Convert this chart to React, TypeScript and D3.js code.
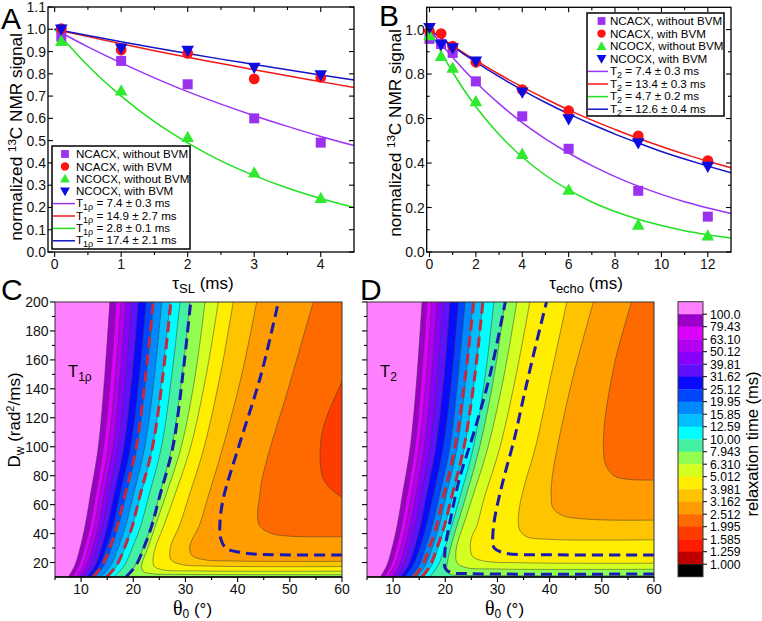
import React from "react";
import * as d3 from "d3";

const FONT = "'Liberation Sans', Arial, Helvetica, sans-serif";

// ---- panel A : spin-lock decay ----
const tauSL = [0.1, 1, 2, 3, 4];
const aNcacx = [0.967, 0.858, 0.753, 0.6, 0.491];
const aNcacxBvm = [1.003, 0.907, 0.892, 0.777, 0.784];
const aNcocx = [0.947, 0.724, 0.515, 0.356, 0.241];
const aNcocxBvm = [1.0, 0.915, 0.904, 0.828, 0.795];

const fitTauSL = [0, 0.5, 1, 1.5, 2, 2.5, 3, 3.5, 4, 4.5];
const aFitNcacx = [1, 0.921, 0.849, 0.782, 0.72, 0.664, 0.612, 0.564, 0.519, 0.478];
const aFitNcacxBvm = [1, 0.967, 0.935, 0.904, 0.874, 0.846, 0.818, 0.791, 0.765, 0.739];
const aFitNcocx = [1, 0.836, 0.7, 0.585, 0.49, 0.409, 0.343, 0.287, 0.24, 0.2];
const aFitNcocxBvm = [1, 0.972, 0.944, 0.917, 0.891, 0.866, 0.842, 0.818, 0.795, 0.772];

// ---- panel B : echo decay ----
const tauEcho = [0, 0.5, 1, 2, 4, 6, 9, 12];
const bNcacx = [0.958, 0.935, 0.895, 0.767, 0.61, 0.464, 0.275, 0.159];
const bNcacxBvm = [0.992, 0.982, 0.925, 0.853, 0.73, 0.635, 0.522, 0.411];
const bNcocx = [0.973, 0.88, 0.827, 0.677, 0.44, 0.279, 0.122, 0.073];
const bNcocxBvm = [1.008, 0.932, 0.917, 0.857, 0.718, 0.598, 0.49, 0.384];

const fitTauEcho = [0, 1, 2, 3, 4, 5, 6, 7, 8, 9, 10, 11, 12, 13];
const bFitNcacx = [1, 0.874, 0.763, 0.667, 0.582, 0.509, 0.445, 0.388, 0.339, 0.296, 0.259, 0.226, 0.198, 0.173];
const bFitNcacxBvm = [1, 0.928, 0.861, 0.799, 0.742, 0.689, 0.639, 0.593, 0.551, 0.511, 0.474, 0.44, 0.408, 0.379];
const bFitNcocx = [1, 0.808, 0.653, 0.528, 0.427, 0.345, 0.279, 0.225, 0.182, 0.147, 0.119, 0.096, 0.078, 0.063];
const bFitNcocxBvm = [1, 0.924, 0.853, 0.788, 0.728, 0.672, 0.621, 0.574, 0.53, 0.49, 0.452, 0.418, 0.386, 0.356];

const sampleNames = ["NCACX, without BVM", "NCACX, with BVM", "NCOCX, without BVM", "NCOCX, with BVM"];
const fitLabelsA = ["7.4 ± 0.3", "14.9 ± 2.7", "2.8 ± 0.1", "17.4 ± 2.1"];
const fitLabelsB = ["7.4 ± 0.3", "13.4 ± 0.3", "4.7 ± 0.2", "12.6 ± 0.4"];

const markerColors = ["#9a32f0", "#ff1414", "#30ea30", "#0c0ce0"];
const lineColors = ["#9b35f5", "#f01818", "#22e022", "#1414c8"];
const markerKinds = ["square", "circle", "up", "down"];

// ---- colour levels (relaxation time, ms) ----
const levelLabels = ["100.0", "79.43", "63.10", "50.12", "39.81", "31.62", "25.12", "19.95", "15.85", "12.59",
  "10.00", "7.943", "6.310", "5.012", "3.981", "3.162", "2.512", "1.995", "1.585", "1.259", "1.000"];
const cellColors = ["#ff80ff", "#9c00c8", "#dd00ff", "#b400f2", "#8a00ff", "#6010ff", "#0a0aff", "#0046ff",
  "#0088ff", "#00beff", "#00ffff", "#44f0a2", "#92ff50", "#d4ff20", "#ffee00", "#ffc400", "#ff9c00",
  "#ff6a00", "#ff3c00", "#ff1c00", "#c00000", "#000000"];

// ---- panel C : T1rho contour lines [theta0, Dw], one per level from 100.0 down ----
const linesC = [
  [[7.55, 10], [8.8, 18], [9.8, 30], [10.75, 45], [11.7, 65], [13.3, 100], [14.55, 150], [15.5, 200]],
  [[8.3, 10], [9.6, 18], [10.6, 30], [11.7, 45], [12.7, 65], [14.3, 100], [15.7, 150], [16.7, 200]],
  [[9.0, 10], [10.4, 18], [11.4, 30], [12.5, 45], [13.5, 65], [15.2, 100], [16.6, 150], [17.65, 200]],
  [[9.7, 10], [11.1, 18], [12.2, 30], [13.3, 45], [14.3, 65], [16.1, 100], [17.5, 150], [18.6, 200]],
  [[10.4, 10], [11.9, 18], [13.0, 30], [14.1, 45], [15.2, 65], [17.1, 100], [18.6, 150], [19.7, 200]],
  [[11.1, 10], [12.7, 18], [13.9, 30], [15.0, 45], [16.2, 65], [18.2, 100], [19.8, 150], [20.95, 200]],
  [[11.8, 10], [13.5, 18], [14.8, 30], [16.1, 45], [17.3, 65], [19.5, 100], [21.2, 150], [22.45, 200]],
  [[12.6, 10], [14.4, 18], [15.8, 30], [17.1, 45], [18.5, 65], [20.7, 100], [22.5, 150], [23.9, 200]],
  [[13.8, 10], [15.7, 18], [17.1, 30], [18.5, 45], [19.9, 65], [22.2, 100], [24.1, 150], [25.45, 200]],
  [[15.0, 10], [16.9, 18], [18.4, 30], [19.8, 45], [21.3, 65], [23.7, 100], [25.6, 150], [27.05, 200]],
  [[16.3, 10], [18.3, 18], [19.8, 30], [21.4, 45], [22.9, 65], [25.4, 100], [27.4, 150], [28.95, 200]],
  [[18.4, 10], [20.4, 18], [21.9, 30], [23.4, 45], [24.9, 65], [27.4, 100], [29.4, 150], [30.85, 200]],
  [[60, 11.6], [30, 11.8], [23.5, 12.3], [21.9, 13.8], [21.6, 18], [22.8, 30], [24.2, 45], [26.1, 65], [29.2, 100], [31.9, 150], [33.75, 200]],
  [[60, 14], [32, 14.2], [25.5, 15], [24, 17.5], [23.8, 22], [24.2, 30], [25.8, 45], [27.8, 65], [31.0, 100], [34.0, 150], [36.3, 200]],
  [[60, 17.2], [35, 17.5], [29, 18.8], [27.2, 22], [27, 27], [27.3, 33], [28.8, 45], [30.6, 65], [33.6, 100], [36.7, 150], [39.15, 200]],
  [[60, 20.8], [40, 21], [33.5, 22], [31.2, 25], [30.8, 30], [31.3, 36], [32.6, 45], [34.3, 65], [37.2, 100], [40.8, 150], [43.65, 200]],
  [[60, 37.8], [50, 38.2], [46.5, 40], [44.3, 45], [43.8, 53], [44.2, 65], [44.6, 76], [46.3, 100], [49.2, 134], [51.3, 160], [54.5, 200]],
  [[60, 65], [57.5, 72], [56.2, 80], [55.8, 95], [56.2, 110], [57.1, 121], [58.5, 133], [60, 145]],
];
const redLowC = [[12.3, 10], [14.1, 18], [15.5, 30], [16.9, 45], [18.3, 65], [20.6, 100], [22.4, 150], [23.85, 200]];
const redHighC = [[14.9, 10], [16.8, 18], [18.3, 30], [19.8, 45], [21.2, 65], [23.7, 100], [25.7, 150], [27.2, 200]];
const blueLowC = [[18.6, 10], [20.5, 18], [22.0, 30], [23.5, 45], [25.0, 65], [27.6, 100], [29.5, 150], [31.0, 200]];
const blueHighC = [[60, 25.2], [48, 25.3], [41.5, 26.5], [37.8, 30], [36.8, 36], [36.6, 47], [37.3, 65], [40.2, 100], [44.5, 150], [47.8, 200]];

// ---- panel D : T2 contour lines ----
const linesD = [
  [[7.55, 10], [8.8, 18], [9.8, 30], [10.75, 45], [11.7, 65], [13.3, 100], [14.6, 150], [15.55, 200]],
  [[8.3, 10], [9.6, 18], [10.6, 30], [11.6, 45], [12.6, 65], [14.2, 100], [15.5, 150], [16.5, 200]],
  [[9.0, 10], [10.3, 18], [11.4, 30], [12.4, 45], [13.4, 65], [15.0, 100], [16.4, 150], [17.4, 200]],
  [[9.8, 10], [11.2, 18], [12.2, 30], [13.2, 45], [14.3, 65], [16.0, 100], [17.4, 150], [18.4, 200]],
  [[10.6, 10], [12.0, 18], [13.1, 30], [14.2, 45], [15.3, 65], [17.1, 100], [18.5, 150], [19.6, 200]],
  [[11.4, 10], [12.9, 18], [14.1, 30], [15.2, 45], [16.3, 65], [18.2, 100], [19.8, 150], [20.9, 200]],
  [[12.2, 10], [13.8, 18], [15.1, 30], [16.3, 45], [17.6, 65], [19.6, 100], [21.3, 150], [22.5, 200]],
  [[13.3, 10], [15.0, 18], [16.2, 30], [17.5, 45], [18.8, 65], [20.9, 100], [22.5, 150], [23.8, 200]],
  [[14.5, 10], [16.2, 18], [17.5, 30], [18.8, 45], [20.1, 65], [22.3, 100], [24.0, 150], [25.3, 200]],
  [[15.8, 10], [17.4, 18], [18.6, 30], [19.9, 45], [21.3, 65], [23.7, 100], [25.7, 150], [27.2, 200]],
  [[17.0, 10], [18.6, 18], [19.9, 30], [21.2, 45], [22.8, 65], [25.4, 100], [27.7, 150], [29.3, 200]],
  [[60, 10.9], [26, 11.0], [21.2, 11.6], [20.3, 13.5], [20.4, 20], [21.0, 30], [22.2, 45], [23.9, 65], [26.6, 100], [29.4, 150], [31.4, 200]],
  [[60, 15.3], [30, 15.5], [24, 16.5], [22.3, 19.5], [22.0, 25], [22.3, 33], [23.4, 45], [25.2, 65], [28.2, 100], [31.3, 150], [33.7, 200]],
  [[60, 19.5], [35, 19.8], [27.5, 21], [25.3, 24], [24.8, 30], [25.1, 38], [26.0, 45], [27.5, 65], [30.5, 100], [33.6, 150], [36.2, 200]],
  [[60, 35.7], [40, 36], [35.5, 38], [34.2, 43], [34.0, 50], [34.3, 60], [35.3, 75], [37.3, 100], [40.3, 150], [43.3, 200]],
  [[60, 49.3], [48, 49.8], [42.5, 52.5], [40.6, 58], [40.3, 66], [40.4, 76], [41.5, 100], [44.6, 150], [48.4, 200]],
  [[60, 77], [55, 77.5], [52.3, 80], [50.7, 88], [50.3, 100], [50.4, 111], [50.7, 122], [52.6, 160], [55.7, 200]],
];
const redLowD = [[13.95, 10], [15.6, 18], [16.9, 30], [18.3, 45], [19.6, 65], [21.9, 100], [23.9, 150], [25.45, 200]];
const redHighD = [[15.5, 10], [17.1, 18], [18.4, 30], [19.8, 45], [21.2, 65], [23.6, 100], [25.7, 150], [27.2, 200]];
const blueLowD = [[60, 12.1], [25, 12.3], [21, 13.2], [20.0, 16], [19.9, 25], [20.1, 33], [21.0, 50], [22.8, 79], [25.5, 110], [28.6, 150], [31.5, 200]];
const blueHighD = [[60, 25.2], [40, 25.4], [31.5, 26.5], [29.4, 30], [29.1, 36], [29.4, 49], [30.3, 65], [31.4, 81], [33.2, 105], [35.0, 134], [37.0, 165], [39.4, 200]];

const TH0 = 5, TH1 = 60, DW0 = 10, DW1 = 200;

// position of a boundary point along the frame, counter-clockwise from bottom-left
function perim(p: number[]) {
  const w = TH1 - TH0, h = DW1 - DW0;
  const [t, d] = p;
  if (Math.abs(d - DW0) < 1e-6) return t - TH0;
  if (Math.abs(t - TH1) < 1e-6) return w + (d - DW0);
  if (Math.abs(d - DW1) < 1e-6) return w + h + (TH1 - t);
  return 2 * w + h + (DW1 - d);
}

function closeCorners(pts: number[][]) {
  const w = TH1 - TH0, h = DW1 - DW0, P = 2 * (w + h);
  const corners: [number, number[]][] = [[w, [TH1, DW0]], [w + h, [TH1, DW1]], [2 * w + h, [TH0, DW1]], [P, [TH0, DW0]]];
  const s0 = perim(pts[pts.length - 1]);
  let s1 = perim(pts[0]);
  if (s1 <= s0) s1 += P;
  const out: number[][] = [];
  for (const k of [0, 1]) for (const [s, c] of corners) {
    const ss = s + k * P;
    if (ss > s0 && ss < s1) out.push(c);
  }
  return out;
}

function Marker({ kind, cx, cy, fill, s = 1 }: any) {
  if (kind === "square") return <rect x={cx - 5 * s} y={cy - 5 * s} width={10 * s} height={10 * s} fill={fill} />;
  if (kind === "circle") return <circle cx={cx} cy={cy} r={5.4 * s} fill={fill} />;
  if (kind === "up") return <path d={`M${cx},${cy - 6.5 * s}L${cx + 6.3 * s},${cy + 4.8 * s}L${cx - 6.3 * s},${cy + 4.8 * s}Z`} fill={fill} />;
  return <path d={`M${cx},${cy + 6.5 * s}L${cx + 6.3 * s},${cy - 4.8 * s}L${cx - 6.3 * s},${cy - 4.8 * s}Z`} fill={fill} />;
}

function ScatterPanel(p: any) {
  const x = d3.scaleLinear().domain(p.xDom).range([p.left, p.right]);
  const y = d3.scaleLinear().domain(p.yDom).range([p.bottom, p.top]);
  const fit = d3.line<number>().x((_, i) => x(p.fitX[i])).y((d) => y(d)).curve(d3.curveMonotoneX);
  const lg = p.legend;
  return (
    <g>
      {p.fitYs.map((f: number[], i: number) => (
        <path key={"f" + i} d={fit(f) as string} fill="none" stroke={lineColors[i]} strokeWidth={1.5} />
      ))}
      {p.ys.map((ser: number[], i: number) =>
        ser.map((v, j) => (
          <Marker key={`m${i}-${j}`} kind={markerKinds[i]} cx={x(p.xs[j])} cy={y(v)} fill={markerColors[i]} />
        ))
      )}
      <rect x={p.left} y={p.top} width={p.right - p.left} height={p.bottom - p.top} fill="none" stroke="#000" strokeWidth={1.3} />
      <g stroke="#000" strokeWidth={1.1}>
        {p.xMajor.map((v: number) => (
          <g key={"xt" + v}>
            <line x1={x(v)} x2={x(v)} y1={p.bottom} y2={p.bottom + 5} />
            <line x1={x(v)} x2={x(v)} y1={p.top} y2={p.top + 5} />
          </g>
        ))}
        {p.xMinor.map((v: number) => (
          <g key={"xn" + v}>
            <line x1={x(v)} x2={x(v)} y1={p.bottom} y2={p.bottom + 3} />
            <line x1={x(v)} x2={x(v)} y1={p.top} y2={p.top + 3} />
          </g>
        ))}
        {p.yMajor.map((v: number) => (
          <g key={"yt" + v}>
            <line x1={p.left} x2={p.left + 5} y1={y(v)} y2={y(v)} />
            <line x1={p.right} x2={p.right - 5} y1={y(v)} y2={y(v)} />
          </g>
        ))}
        {p.yMinor.map((v: number) => (
          <g key={"yn" + v}>
            <line x1={p.left} x2={p.left + 3} y1={y(v)} y2={y(v)} />
            <line x1={p.right} x2={p.right - 3} y1={y(v)} y2={y(v)} />
          </g>
        ))}
      </g>
      <g fontSize={14} fill="#111">
        {p.xMajor.map((v: number) => (
          <text key={"xl" + v} x={x(v)} y={p.bottom + 17} textAnchor="middle">{v}</text>
        ))}
        {p.yLabels.map((v: number) => (
          <text key={"yl" + v} x={p.left - 2} y={y(v) + 5} textAnchor="end">{d3.format(".1f")(v)}</text>
        ))}
      </g>
      <text transform={`translate(${p.yTitleX},${p.yTitleY}) rotate(-90)`} textAnchor="middle" fontSize={17.2}>
        normalized <tspan dy={-6.5} fontSize={11.5}>13</tspan><tspan dy={6.5}>C NMR signal</tspan>
      </text>
      <text x={p.xTitleX} y={289} textAnchor="middle" fontSize={17}>
        τ<tspan dy={4} fontSize={13}>{p.xSub}</tspan><tspan dy={-4}> (ms)</tspan>
      </text>
      <g>
        <rect x={lg.x} y={lg.y} width={lg.w} height={lg.h} fill="#fff" stroke="#000" strokeWidth={1.5} />
        {sampleNames.map((n, i) => {
          const cy = lg.row0 + i * lg.step;
          return (
            <g key={n}>
              <Marker kind={markerKinds[i]} cx={lg.symX} cy={cy} fill={markerColors[i]} s={0.78} />
              <text x={lg.textX} y={cy + 4.2} fontSize={11.6}>{n}</text>
            </g>
          );
        })}
        {p.fitLabels.map((t: string, i: number) => {
          const cy = lg.row0 + (i + 4) * lg.step;
          return (
            <g key={t}>
              <line x1={lg.l0} x2={lg.l1} y1={cy} y2={cy} stroke={lineColors[i]} strokeWidth={1.5} />
              <text x={lg.textX} y={cy + 3.6} fontSize={11.6}>
                T<tspan dy={3} fontSize={9}>{p.tSub}</tspan><tspan dy={-3}>{` = ${t} ms`}</tspan>
              </text>
            </g>
          );
        })}
      </g>
    </g>
  );
}

function ContourPanel({ left, lines, dashes, id, showY, tLabel }: any) {
  const x = d3.scaleLinear().domain([TH0, TH1]).range([left, left + 287]);
  const y = d3.scaleLinear().domain([DW0, DW1]).range([577, 302]);
  const lg = d3.line<number[]>().x((d) => x(d[0])).y((d) => y(d[1])).curve(d3.curveCatmullRom.alpha(0.5));
  const n = lines.length;
  const order = d3.range(n - 1, -1, -1);
  const xMajor = d3.range(10, 61, 10);
  const xMinor = d3.range(5, 60, 10);
  const yMajor = d3.range(20, 201, 20);
  const yMinor = d3.range(30, 200, 20);
  return (
    <g>
      <defs>
        <clipPath id={id}>
          <rect x={x(TH0)} y={y(DW1)} width={x(TH1) - x(TH0)} height={y(DW0) - y(DW1)} />
        </clipPath>
      </defs>
      <g clipPath={`url(#${id})`}>
        <rect x={x(TH0)} y={y(DW1)} width={x(TH1) - x(TH0)} height={y(DW0) - y(DW1)} fill={cellColors[n]} />
        {order.map((i: number) => (
          <path
            key={"fill" + i}
            d={(lg(lines[i]) as string) + closeCorners(lines[i]).map((c) => `L${x(c[0])},${y(c[1])}`).join("") + "Z"}
            fill={cellColors[i]}
          />
        ))}
        {lines.map((pts: number[][], i: number) => (
          <path key={"ln" + i} d={lg(pts) as string} fill="none" stroke="#3a3a3a" strokeWidth={0.6} strokeOpacity={0.85} />
        ))}
        {dashes.map((dl: any, i: number) => (
          <path key={"ds" + i} d={lg(dl.pts) as string} fill="none" stroke={dl.color} strokeWidth={3} strokeDasharray="11,6" />
        ))}
      </g>
      <rect x={x(TH0)} y={y(DW1)} width={x(TH1) - x(TH0)} height={y(DW0) - y(DW1)} fill="none" stroke="#333" strokeWidth={1} />
      <line x1={x(TH0)} x2={x(TH1)} y1={577} y2={577} stroke="#000" strokeWidth={1.4} />
      <g stroke="#000" strokeWidth={1.1}>
        {xMajor.map((v) => <line key={"a" + v} x1={x(v)} x2={x(v)} y1={577} y2={582} />)}
        {xMinor.map((v) => <line key={"b" + v} x1={x(v)} x2={x(v)} y1={577} y2={580} />)}
        {yMajor.map((v) => <line key={"c" + v} x1={x(TH0)} x2={x(TH0) - 5} y1={y(v)} y2={y(v)} />)}
        {yMinor.map((v) => <line key={"d" + v} x1={x(TH0)} x2={x(TH0) - 3} y1={y(v)} y2={y(v)} />)}
      </g>
      <g fontSize={14} fill="#111">
        {xMajor.map((v) => (
          <text key={"xl" + v} x={x(v)} y={593.5} textAnchor="middle">{v}</text>
        ))}
        {showY &&
          yMajor.map((v) => (
            <text key={"yl" + v} x={x(TH0) - 6.5} y={y(v) + 5} textAnchor="end">{v}</text>
          ))}
      </g>
      <text x={x(32.5) - 6} y={614.5} textAnchor="middle" fontSize={17}>
        <tspan fontFamily="'Liberation Serif', serif" fontSize={20}>θ</tspan>
        <tspan dy={3} fontSize={12}>0</tspan>
        <tspan dy={-3}> (°)</tspan>
      </text>
      <text x={x(7.5)} y={377} fontSize={16.5}>
        T<tspan dy={4} fontSize={12}>{tLabel}</tspan>
      </text>
    </g>
  );
}

function ColorBar() {
  const x0 = 678, x1 = 703, top = 301.7, cell = 12.5;
  const yb = d3.scaleLinear().domain([0, cellColors.length]).range([top, top + cell * cellColors.length]);
  return (
    <g>
      {cellColors.map((c, i) => (
        <rect key={c + i} x={x0} y={yb(i)} width={x1 - x0} height={yb(i + 1) - yb(i) + 0.3} fill={c} />
      ))}
      <rect x={x0} y={yb(0)} width={x1 - x0} height={yb(cellColors.length) - yb(0)} fill="none" stroke="#333" strokeWidth={1} />
      {levelLabels.map((l, i) => (
        <g key={l}>
          <line x1={x1} x2={x1 + 4} y1={yb(i + 1)} y2={yb(i + 1)} stroke="#000" strokeWidth={1} />
          <text x={710} y={yb(i + 1) + 4.3} fontSize={12.2}>{l}</text>
        </g>
      ))}
      <text transform="translate(758,444) rotate(-90)" textAnchor="middle" fontSize={16.5}>relaxation time (ms)</text>
    </g>
  );
}

export default function App() {
  return (
    <svg width={762} height={621} style={{ position: "absolute", left: 0, top: 0, background: "#fff" }} fontFamily={FONT}>
      <rect width={762} height={621} fill="#fff" />
      <ScatterPanel
        left={48} right={354} top={7} bottom={252}
        xDom={[-0.1, 4.5]} yDom={[0, 1.1]}
        xMajor={[0, 1, 2, 3, 4]} xMinor={[0.5, 1.5, 2.5, 3.5]}
        yMajor={d3.range(0, 1.15, 0.1)} yMinor={[]} yLabels={d3.range(0, 1.15, 0.1)}
        xs={tauSL} ys={[aNcacx, aNcacxBvm, aNcocx, aNcocxBvm]}
        fitX={fitTauSL} fitYs={[aFitNcacx, aFitNcacxBvm, aFitNcocx, aFitNcocxBvm]}
        fitLabels={fitLabelsA} tSub="1ρ" xSub="SL" xTitleX={203}
        yTitleX={22} yTitleY={137}
        legend={{ x: 52, y: 146, w: 138, h: 103, row0: 154, step: 12.4, symX: 65, l0: 53, l1: 75, textX: 76 }}
      />
      <ScatterPanel
        left={426.7} right={731} top={7.3} bottom={252}
        xDom={[-0.12, 13]} yDom={[0, 1.1]}
        xMajor={[0, 2, 4, 6, 8, 10, 12]} xMinor={[1, 3, 5, 7, 9, 11]}
        yMajor={[0, 0.2, 0.4, 0.6, 0.8, 1.0]} yMinor={[0.1, 0.3, 0.5, 0.7, 0.9]} yLabels={[0, 0.2, 0.4, 0.6, 0.8, 1.0]}
        xs={tauEcho} ys={[bNcacx, bNcacxBvm, bNcocx, bNcocxBvm]}
        fitX={fitTauEcho} fitYs={[bFitNcacx, bFitNcacxBvm, bFitNcocx, bFitNcocxBvm]}
        fitLabels={fitLabelsB} tSub="2" xSub="echo" xTitleX={586}
        yTitleX={401} yTitleY={133}
        legend={{ x: 587, y: 13, w: 137, h: 103, row0: 21, step: 12.6, symX: 601.5, l0: 588, l1: 608, textX: 610 }}
      />
      <ContourPanel
        id="clipC" left={55} lines={linesC} showY tLabel="1ρ"
        dashes={[
          { pts: redLowC, color: "#c8283a" }, { pts: redHighC, color: "#c8283a" },
          { pts: blueLowC, color: "#1a1ab0" }, { pts: blueHighC, color: "#1a1ab0" },
        ]}
      />
      <ContourPanel
        id="clipD" left={367} lines={linesD} showY={false} tLabel="2"
        dashes={[
          { pts: redLowD, color: "#c8283a" }, { pts: redHighD, color: "#c8283a" },
          { pts: blueLowD, color: "#1a1ab0" }, { pts: blueHighD, color: "#1a1ab0" },
        ]}
      />
      <text transform="translate(20,420) rotate(-90)" textAnchor="middle" fontSize={17}>
        D<tspan dy={4} fontSize={12}>w</tspan><tspan dy={-4}> (rad</tspan><tspan dy={-6} fontSize={11}>2</tspan><tspan dy={6}>/ms)</tspan>
      </text>
      <ColorBar />
      <g fontSize={30} fill="#000">
        <text x={1} y={28.5}>A</text>
        <text x={379} y={26}>B</text>
        <text x={1} y={300}>C</text>
        <text x={360} y={300}>D</text>
      </g>
    </svg>
  );
}
